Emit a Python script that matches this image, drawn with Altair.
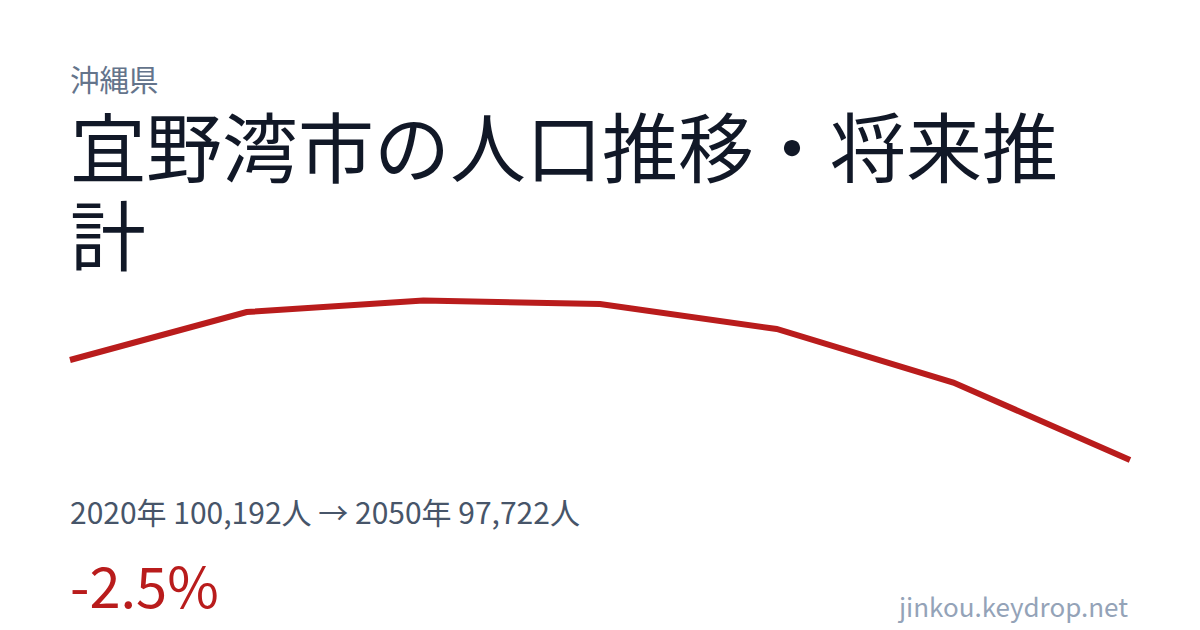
import altair as alt
import pandas as pd

years = [2020, 2025, 2030, 2035, 2040, 2045, 2050]
population = [100192, 101378, 101662, 101575, 100958, 99636, 97722]

prefecture = "沖縄県"
title_lines = ["宜野湾市の人口推移・将来推", "計"]
summary = "2020年 100,192人 → 2050年 97,722人"
change = "-2.5%"
site = "jinkou.keydrop.net"

FONT = "Noto Sans CJK JP"

df = pd.DataFrame({"year": years, "pop": population})

line = alt.Chart(df).mark_line(color="#b91c1c", strokeWidth=6, strokeCap="butt").encode(
    x=alt.X("year:Q", axis=None,
            scale=alt.Scale(domain=[min(years), max(years)], range=[62, 1122], nice=False, zero=False)),
    y=alt.Y("pop:Q", axis=None,
            scale=alt.Scale(domain=[min(population), max(population)], range=[452, 292.5], nice=False, zero=False)),
)

def label(text, x, y, size, color, align="left"):
    return alt.Chart(pd.DataFrame({"t": [text]})).mark_text(
        font=FONT, fontSize=size, color=color, align=align, baseline="alphabetic"
    ).encode(text="t:N", x=alt.value(x), y=alt.value(y))

title_chart = alt.Chart(pd.DataFrame({"t": [title_lines]})).mark_text(
    font=FONT, fontSize=76, color="#111827", align="left", baseline="alphabetic", lineHeight=88
).encode(text="t", x=alt.value(62), y=alt.value(169))

chart = alt.layer(
    line,
    label(prefecture, 62, 83, 29.5, "#64748b"),
    title_chart,
    label(summary, 62, 516, 30, "#475569"),
    label(change, 62, 600, 56, "#b91c1c"),
    label(site, 1120, 609, 26, "#94a3b8", align="right"),
).properties(
    width=1150, height=616, padding=0, autosize=alt.AutoSizeParams(type="none"),
    background="white"
).configure_view(stroke=None)

chart.save("out.html", embed_options={"renderer": "svg", "actions": False})
